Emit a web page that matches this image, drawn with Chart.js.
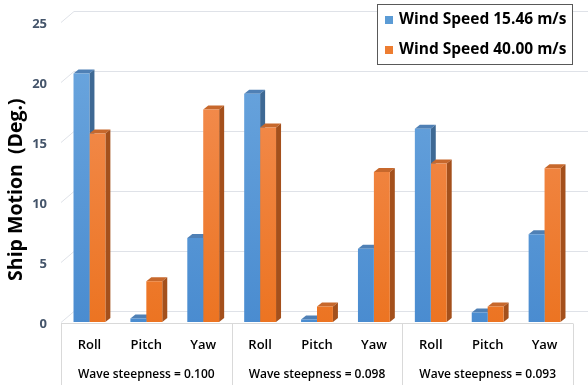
<!DOCTYPE html>
<html>
<head>
<meta charset="utf-8">
<script src="https://cdn.jsdelivr.net/npm/chart.js@4"></script>
<style>
    body { margin: 0; background: #fff; }
    canvas { display: block; }
</style>
</head>
<body>
<canvas id="shipChart" width="588" height="385"></canvas>
<script>
Chart.defaults.font.family = "'Open Sans', 'Liberation Sans', Arial, sans-serif";

const motions = ["Roll", "Pitch", "Yaw", "Roll", "Pitch", "Yaw", "Roll", "Pitch", "Yaw"];
const steepness = ["Wave steepness = 0.100", "Wave steepness = 0.098", "Wave steepness = 0.093"];
const seriesNames = ["Wind Speed 15.46 m/s", "Wind Speed 40.00 m/s"];
const wind1546 = [20.7, 0.3, 7.0, 19.0, 0.2, 6.1, 16.1, 0.8, 7.3];
const wind4000 = [15.7, 3.4, 17.7, 16.2, 1.3, 12.5, 13.2, 1.3, 12.8];
const yTicks = [0, 5, 10, 15, 20, 25];

// cores: frente (gradiente), topo, lateral
const cores = [
    { claro: "#6ea8df", escuro: "#4a8cd0", topo: "#4f80b5", lado: "#3e6994", legenda: "#5b9bd5" },
    { claro: "#f4925a", escuro: "#ec7422", topo: "#c7682c", lado: "#a4501c", legenda: "#ed7d31" }
];

const barDepth = { dx: 5, dy: 4 };
const wallDepth = { dx: 13, dy: 11 };

function gradiente(ctx, i) {
    const area = ctx.chart.chartArea;
    if (!area) return cores[i].legenda;
    const g = ctx.chart.ctx.createLinearGradient(0, area.top, 0, area.bottom);
    g.addColorStop(0, cores[i].claro);
    g.addColorStop(1, cores[i].escuro);
    return g;
}

const efeito3d = {
    id: "efeito3d",
    beforeDatasetsDraw(chart) {
        const { ctx, chartArea, scales } = chart;
        const x = scales.x, y = scales.y;
        ctx.save();
        ctx.lineWidth = 1;
        ctx.strokeStyle = "#dfe2e8";
        // linhas de grade na parede do fundo
        for (let i = 0; i < yTicks.length; i++) {
            const py = Math.round(y.getPixelForValue(yTicks[i])) + 0.5;
            ctx.beginPath();
            ctx.moveTo(chartArea.left, py);
            ctx.lineTo(chartArea.left + wallDepth.dx, py - wallDepth.dy);
            ctx.lineTo(chart.width, py - wallDepth.dy);
            ctx.stroke();
        }
        // borda da frente e divisorias
        const base = Math.round(y.getPixelForValue(0)) + 1.5;
        ctx.strokeStyle = "#d9d9d9";
        ctx.beginPath();
        ctx.moveTo(chartArea.left, base);
        ctx.lineTo(chartArea.right, base);
        for (let i = 0; i <= motions.length; i += 3) {
            const px = Math.round(x.getPixelForValue(i - 0.5)) + 0.5;
            ctx.moveTo(px, base);
            ctx.lineTo(px, chart.height);
        }
        ctx.stroke();
        // topo e lateral das barras
        for (let d = 0; d < chart.data.datasets.length; d++) {
            const meta = chart.getDatasetMeta(d);
            meta.data.forEach(bar => {
                const p = bar.getProps(["x", "y", "width", "base"], true);
                const esq = p.x - p.width / 2;
                const dir = p.x + p.width / 2;
                ctx.fillStyle = cores[d].topo;
                ctx.beginPath();
                ctx.moveTo(esq, p.y);
                ctx.lineTo(esq + barDepth.dx, p.y - barDepth.dy);
                ctx.lineTo(dir + barDepth.dx, p.y - barDepth.dy);
                ctx.lineTo(dir, p.y);
                ctx.closePath();
                ctx.fill();
                ctx.fillStyle = cores[d].lado;
                ctx.beginPath();
                ctx.moveTo(dir, p.y);
                ctx.lineTo(dir + barDepth.dx, p.y - barDepth.dy);
                ctx.lineTo(dir + barDepth.dx, p.base - barDepth.dy);
                ctx.lineTo(dir, p.base);
                ctx.closePath();
                ctx.fill();
            });
        }
        ctx.restore();
    },
    afterDraw(chart) {
        const ctx = chart.ctx;
        ctx.save();
        ctx.fillStyle = "#ffffff";
        ctx.fillRect(377, 4, 196, 61);
        ctx.strokeStyle = "#595959";
        ctx.lineWidth = 1;
        ctx.strokeRect(377.5, 4.5, 195, 60);
        ctx.font = "bold 15.5px 'Open Sans', sans-serif";
        ctx.textBaseline = "middle";
        for (let i = 0; i < seriesNames.length; i++) {
            const cy = 20 + i * 30;
            ctx.fillStyle = cores[i].legenda;
            ctx.fillRect(385, cy - 4, 8, 8);
            ctx.fillStyle = "#000000";
            ctx.fillText(chart.data.datasets[i].label, 399, cy);
        }
        ctx.restore();
    }
};

new Chart(document.getElementById("shipChart"), {
    type: "bar",
    data: {
        labels: motions,
        datasets: [{
            label: seriesNames[0],
            data: wind1546,
            backgroundColor: ctx => gradiente(ctx, 0)
        }, {
            label: seriesNames[1],
            data: wind4000,
            backgroundColor: ctx => gradiente(ctx, 1)
        }]
    },
    options: {
        responsive: false,
        animation: false,
        layout: { padding: { top: 19, right: 15, left: 0, bottom: 0 } },
        categoryPercentage: 0.56,
        barPercentage: 1,
        plugins: {
            legend: { display: false },
            tooltip: { enabled: false }
        },
        scales: {
            x: {
                weight: 0,
                grid: { display: false, drawTicks: false },
                border: { display: false },
                ticks: { color: "#000000", padding: 15, font: { size: 13, weight: "600" } },
                afterFit: s => { s.height = 40; }
            },
            x2: {
                type: "category",
                position: "bottom",
                weight: 1,
                labels: steepness,
                offset: true,
                grid: { display: false, drawTicks: false },
                border: { display: false },
                ticks: { color: "#000000", padding: 5, font: { size: 12, weight: "600" } },
                afterFit: s => { s.height = 23; }
            },
            y: {
                min: 0,
                max: 25,
                grid: { display: false, drawTicks: false },
                border: { display: false },
                ticks: { stepSize: 5, padding: 14, labelOffset: 2, color: "#44546a", font: { size: 13, weight: "bold" } },
                title: {
                    display: true,
                    // espacos no fim empurram o titulo um pouco para baixo
                    text: "Ship Motion  (Deg.)       ",
                    color: "#000000",
                    padding: { top: 5, bottom: 0 },
                    font: { size: 19.5, weight: "bold" }
                },
                afterFit: s => { s.width = 61; }
            }
        }
    },
    plugins: [efeito3d]
});
</script>
</body>
</html>
